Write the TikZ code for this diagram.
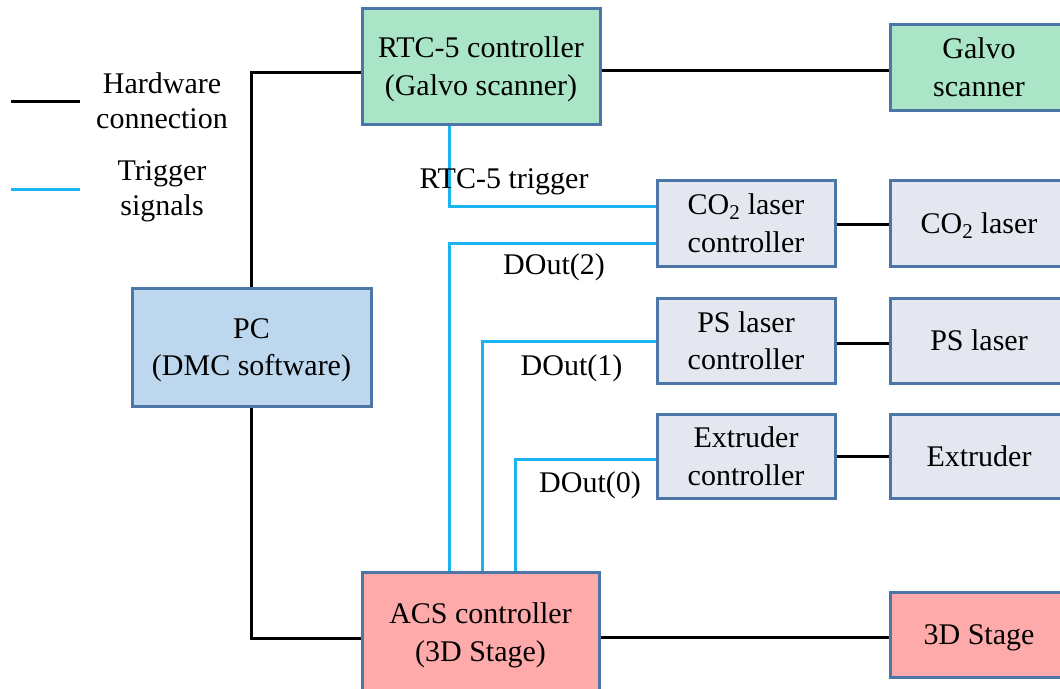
\documentclass[tikz,border=0pt]{standalone}
\usepackage{fontspec}
\setmainfont{Liberation Serif}
\definecolor{edge}{HTML}{4D76A8}
\definecolor{galvofill}{HTML}{A9E5C6}
\definecolor{pcfill}{HTML}{BDD7EE}
\definecolor{devfill}{HTML}{E4E7EF}
\definecolor{stagefill}{HTML}{FFAAAA}
\definecolor{trig}{HTML}{1CB4F0}
\tikzset{
  box/.style={draw=edge, line width=3pt, align=center, inner sep=0pt,
    text depth=0pt, font=\fontsize{30}{37.5}\selectfont},
  hw/.style={draw=black, line width=3pt},
  sig/.style={draw=trig, line width=3pt},
  lbl/.style={anchor=base, inner sep=0pt, font=\fontsize{30}{36}\selectfont},
}
\begin{document}
\begin{tikzpicture}[x=1pt, y=-1pt]
\useasboundingbox (0,0) rectangle (1060,688);
\clip (0,0) rectangle (1060,688);

% boxes
\node[box, fill=galvofill, minimum width=238pt, minimum height=116pt] (rtc) at (481,66) {RTC-5 controller\\(Galvo scanner)};
\node[box, fill=galvofill, minimum width=178pt, minimum height=86pt] (galvo) at (979,67) {Galvo\\scanner};
\node[box, fill=pcfill, minimum width=239pt, minimum height=118pt] (pc) at (251.5,347) {PC\\(DMC software)};
\node[box, fill=devfill, minimum width=178pt, minimum height=86pt] (co2c) at (746,223) {CO\textsubscript{2} laser\\controller};
\node[box, fill=devfill, minimum width=178pt, minimum height=86pt] (co2) at (979,223) {CO\textsubscript{2} laser};
\node[box, fill=devfill, minimum width=178pt, minimum height=85pt] (psc) at (746,340.5) {PS laser\\controller};
\node[box, fill=devfill, minimum width=178pt, minimum height=85pt] (ps) at (979,340.5) {PS laser};
\node[box, fill=devfill, minimum width=178pt, minimum height=84pt] (exc) at (746,456) {Extruder\\controller};
\node[box, fill=devfill, minimum width=178pt, minimum height=84pt] (ex) at (979,456) {Extruder};
\node[box, fill=stagefill, minimum width=237pt, minimum height=120pt] (acs) at (480.5,632) {ACS controller\\(3D Stage)};
\node[box, fill=stagefill, minimum width=178pt, minimum height=85pt] (stage) at (979,634.5) {3D Stage};

% hardware connections
\draw[hw] (pc.north) |- ([yshift=-6pt]rtc.west);
\draw[hw] ([yshift=-4pt]rtc.east) -- ([yshift=-4pt]rtc.east -| galvo.west);
\draw[hw] (pc.south) |- ([yshift=-6pt]acs.west);
\draw[hw] ([yshift=-5pt]acs.east) -- ([yshift=-5pt]acs.east -| stage.west);
\draw[hw] ([yshift=-1pt]co2c.east) -- ([yshift=-1pt]co2c.east -| co2.west);
\draw[hw] ([yshift=-2.5pt]psc.east) -- ([yshift=-2.5pt]psc.east -| ps.west);
\draw[hw] (exc.east) -- (ex.west);

% trigger signals
\draw[sig] ([xshift=-32pt]rtc.south) |- ([yshift=17pt]co2c.west);
\draw[sig] ([xshift=-31pt]acs.north) |- ([yshift=-20pt]co2c.west);
\draw[sig] ([xshift=2pt]acs.north) |- ([yshift=-1pt]psc.west);
\draw[sig] ([xshift=35pt]acs.north) |- ([yshift=-3pt]exc.west);

% signal labels
\node[lbl] (ltrig) at (504,188) {RTC-5 trigger};
\node[lbl] (ld2) at (554,274) {DOut(2)};
\node[lbl] (ld1) at (571.5,375) {DOut(1)};
\node[lbl] (ld0) at (590,492) {DOut(0)};

% legend
\coordinate (hwa) at (11,101);
\coordinate (hwb) at (80,101);
\coordinate (sga) at (11,189);
\coordinate (sgb) at (80,189);
\draw[hw] (hwa) -- (hwb);
\draw[sig] (sga) -- (sgb);
\node[lbl] (lhw1) at (162,93) {Hardware};
\node[lbl] (lhw2) at (162,128) {connection};
\node[lbl] (lsg1) at (162,180) {Trigger};
\node[lbl] (lsg2) at (162,215) {signals};
\end{tikzpicture}
\end{document}
